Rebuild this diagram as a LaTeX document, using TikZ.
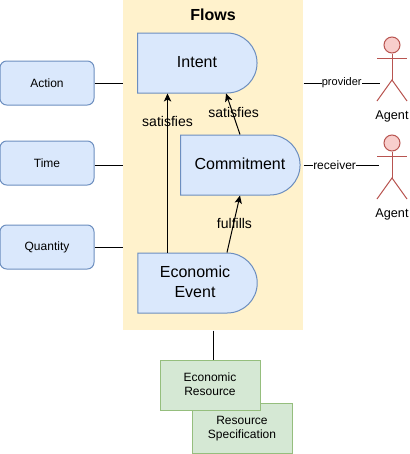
\documentclass[tikz,border=0pt]{standalone}
\usepackage{fontspec}
\setmainfont{Liberation Sans}
\usetikzlibrary{positioning,arrows.meta,shapes.misc}

\definecolor{flowfill}{HTML}{FFF2CC}
\definecolor{bluefill}{HTML}{DAE8FC}
\definecolor{blueline}{HTML}{6C8EBF}
\definecolor{greenfill}{HTML}{D5E8D4}
\definecolor{greenline}{HTML}{82B366}
\definecolor{redfill}{HTML}{F8CECC}
\definecolor{redline}{HTML}{B85450}

\begin{document}
\begin{tikzpicture}[x=0.75pt,y=-0.75pt,line width=0.75pt]
\tikzset{
  process/.style={rounded rectangle,rounded rectangle west arc=none,draw=blueline,fill=bluefill,
    minimum width=89.5pt,minimum height=45pt,inner sep=0pt,align=center,text depth=1.5pt,font=\fontsize{12}{15}\selectfont},
  measure/.style={rectangle,rounded corners=5pt,draw=blueline,fill=bluefill,
    minimum width=70.5pt,minimum height=33pt,inner sep=0pt,font=\fontsize{9}{10.5}\selectfont},
  resource/.style={rectangle,draw=greenline!85,fill=greenfill,minimum width=75pt,minimum height=37.5pt,
    inner sep=0pt,align=center,text depth=1pt,font=\fontsize{9}{10.5}\selectfont},
  flowarrow/.style={-{Stealth[length=6pt,width=5.5pt,inset=1.5pt]}},
  arrowlabel/.style={inner sep=0pt,font=\fontsize{10.5}{12}\selectfont},
  rolelabel/.style={fill=white,inner sep=0.2pt,font=\fontsize{8.25}{10}\selectfont},
  actorhead/.style={circle,draw=redline,fill=redfill,minimum size=12pt,inner sep=0pt},
  actorlabel/.style={inner sep=0pt,font=\fontsize{9.5}{11}\selectfont}
}
\useasboundingbox (0,0) rectangle (410,454);

% flows container
\node[rectangle,fill=flowfill,minimum width=135pt,minimum height=247.5pt,inner sep=0pt] (flows) at (213,165) {};
\node[inner sep=0pt,font=\fontsize{12}{14}\selectfont\bfseries] (flowstitle) at (213,15) {Flows};

% processes
\node[process] (intent) at (197,63) {Intent};
\node[process] (commitment) at (240,165) {Commitment};
\node[process] (event) at (195,283) {Economic\\Event};

% left side
\node[measure] (action) at (47,83) {Action};
\node[measure] (time) at (47,163) {Time};
\node[measure] (quantity) at (47,247) {Quantity};
\draw (action.east) -- (action.east -| flows.west);
\draw ([yshift=-1.5pt]time.east) -- ([yshift=-1.5pt]time.east -| flows.west);
\draw (quantity.east) -- (quantity.east -| flows.west);

% resources
\node[resource] (spec) at (242,428) {Resource\\Specification};
\node[resource] (resource) at (210,385) {Economic\\Resource};
\draw (flows.south) -- (flows.south |- resource.north);

% agents
\foreach \name/\ypos in {provider/45,receiver/143} {
  \node[actorhead] (\name head) at (392,\ypos) {};
  \coordinate (\name arm) at (392,\ypos+13.5);
  \coordinate (\name hip) at (392,\ypos+35);
  \draw[redline] (\name head.south) -- (\name hip);
  \draw[redline] ([xshift=-11.25pt]\name arm) -- ([xshift=11.25pt]\name arm);
  \draw[redline] ([xshift=-11.25pt,yshift=-15.75pt]\name hip) -- (\name hip) -- ([xshift=11.25pt,yshift=-15.75pt]\name hip);
  \node[actorlabel] (\name agent) at (392,\ypos+71) {Agent};
}
\draw (flows.east |- action.east) -- node[rolelabel,pos=0.5] (providerlabel) {provider} ([xshift=-9pt]providerhip |- action.east);
\draw (flows.east |- commitment.east) -- node[rolelabel,pos=0.41,font=\fontsize{9}{10}\selectfont] (receiverlabel) {receiver} ([xshift=-9.5pt]receiverhip |- commitment.east);

% arrows
\draw[flowarrow] ([xshift=-20.6pt]event.north) -- node[arrowlabel,pos=0.825] (leftlabel) {satisfies} ([xshift=-22.1pt]intent.south);
\draw[flowarrow] (commitment.north) -- node[arrowlabel,pos=0.53,xshift=0.75pt] (rightlabel) {satisfies} ([xshift=21.8pt]intent.south);
\draw[flowarrow] ([xshift=24pt]event.north) -- node[arrowlabel,pos=0.5,xshift=0.75pt,yshift=0.75pt] (fulfilslabel) {fulfills} (commitment.south);
\end{tikzpicture}
\end{document}
